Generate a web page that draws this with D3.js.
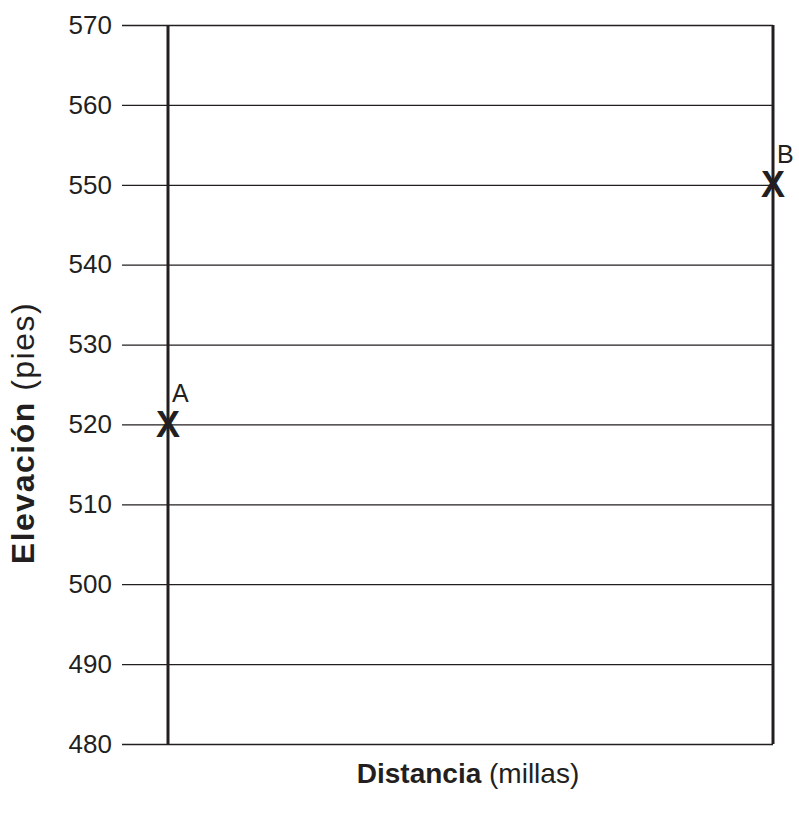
<!DOCTYPE html>
<html>
<head>
<meta charset="utf-8">
<script src="https://cdn.jsdelivr.net/npm/d3@7"></script>
<style>
  body { margin: 0; background: #fff; }
  svg { display: block; font-family: "Liberation Sans", Arial, Helvetica, sans-serif; }
</style>
</head>
<body>
<svg id="chart" width="799" height="818"></svg>
<script>
const yTicks = [480, 490, 500, 510, 520, 530, 540, 550, 560, 570];
const pointNames = ["A", "B"];
const pointDist = [0, 1];
const pointElev = [520, 550];

const svg = d3.select("#chart");
const m = {left: 122, right: 773, top: 25, bottom: 744};
const ink = "#231f20";

const y = d3.scaleLinear().domain([480, 570]).range([m.bottom, m.top]);
const x = d3.scaleLinear().domain([0, 1]).range([168, 773]);

// horizontal grid + tick labels
const yAxis = d3.axisLeft(y).tickValues(yTicks).tickSize(-(m.right - m.left)).tickPadding(10);
const gy = svg.append("g").attr("transform", `translate(${m.left},0)`).call(yAxis);
gy.select(".domain").remove();
gy.selectAll(".tick line").attr("stroke", ink).attr("stroke-width", 1.3);
gy.selectAll(".tick text")
  .attr("fill", ink)
  .attr("font-size", 26)
  .attr("font-family", '"Liberation Sans", Arial, sans-serif');

// vertical lines through A and B
svg.append("g").selectAll("line").data(pointDist).join("line")
  .attr("x1", d => x(d)).attr("x2", d => x(d))
  .attr("y1", m.top).attr("y2", m.bottom)
  .attr("stroke", ink).attr("stroke-width", 3);

// X marks
svg.append("g").selectAll("text").data(pointDist).join("text")
  .attr("x", d => x(d))
  .attr("y", (d, i) => y(pointElev[i]))
  .attr("text-anchor", "middle")
  .attr("dominant-baseline", "central")
  .attr("font-size", 36)
  .attr("font-weight", "bold")
  .attr("fill", ink)
  .text("X");

// point labels
svg.append("g").selectAll("text").data(pointDist).join("text")
  .attr("x", d => x(d) + 4)
  .attr("y", (d, i) => y(pointElev[i]) - 22)
  .attr("font-size", 25)
  .attr("fill", ink)
  .text((d, i) => pointNames[i]);

// axis titles
const yt = svg.append("text")
  .attr("transform", "translate(34,433) rotate(-90)")
  .attr("text-anchor", "middle")
  .attr("font-size", 32)
  .attr("letter-spacing", 1.5)
  .attr("fill", ink);
yt.append("tspan").attr("font-weight", "bold").text("Elevación");
yt.append("tspan").text(" (pies)");

const xt = svg.append("text")
  .attr("x", 468)
  .attr("y", 783)
  .attr("text-anchor", "middle")
  .attr("font-size", 28)
  .attr("fill", ink);
xt.append("tspan").attr("font-weight", "bold").text("Distancia");
xt.append("tspan").text(" (millas)");
</script>
</body>
</html>
